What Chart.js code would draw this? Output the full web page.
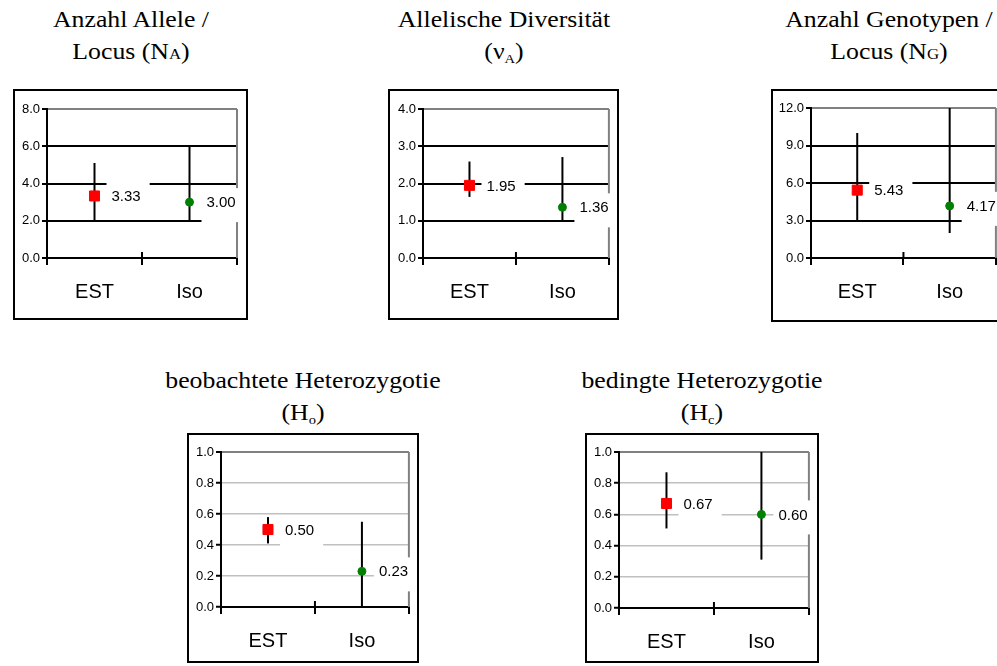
<!DOCTYPE html>
<html>
<head>
<meta charset="utf-8">
<script src="https://cdn.jsdelivr.net/npm/chart.js@4/dist/chart.umd.min.js"></script>
<style>
  html, body { margin: 0; padding: 0; background: #fff; }
  body { width: 997px; height: 666px; overflow: hidden; position: relative; }
  .box { position: absolute; border: 2px solid #000; box-sizing: border-box; background: #fff; }
  .box canvas { position: absolute; left: 0; top: 0; display: block; }
  .title {
    position: absolute; width: 400px; text-align: center; white-space: nowrap;
    font-family: 'Liberation Serif', 'Times New Roman', serif; font-size: 23px;
    line-height: 32px; color: #000; transform: scaleX(1.12); transform-origin: center top;
  }
  .sc { font-size: 15px; }
  .title sub { font-size: 13px; vertical-align: -4px; line-height: 0; }
</style>
</head>
<body>
<script>
// Two groups compared in every panel
const categories = ['EST', 'Iso'];

// Anzahl Allele / Locus (NA): mean with min/max range
const naMean = [3.33, 3.00];
const naLow = [2.0, 2.0];
const naHigh = [5.1, 6.0];
const naTicks = [0, 2, 4, 6, 8];

// Allelische Diversitaet (vA)
const vaMean = [1.95, 1.36];
const vaLow = [1.64, 1.0];
const vaHigh = [2.59, 2.71];
const vaTicks = [0, 1, 2, 3, 4];

// Anzahl Genotypen / Locus (NG)
const ngMean = [5.43, 4.17];
const ngLow = [3.0, 2.0];
const ngHigh = [10.0, 12.0];
const ngTicks = [0, 3, 6, 9, 12];

// beobachtete Heterozygotie (Ho)
const hoMean = [0.50, 0.23];
const hoLow = [0.41, 0.0];
const hoHigh = [0.58, 0.55];
const hoTicks = [0, 0.2, 0.4, 0.6, 0.8, 1.0];

// bedingte Heterozygotie (Hc)
const hcMean = [0.67, 0.60];
const hcLow = [0.51, 0.31];
const hcHigh = [0.87, 1.0];
const hcTicks = [0, 0.2, 0.4, 0.6, 0.8, 1.0];

const markerStyles = ['rect', 'circle'];
const markerRadius = [7.1, 4];
const markerColors = ['#ff0000', '#008000'];

const SANS = "'Liberation Sans', Arial, sans-serif";

// Panel layout: frame box [left, top, width, height] and plot area [left, top, right, bottom] in page pixels
const panels = [
  { mean: naMean, low: naLow, high: naHigh, ticks: naTicks,
    box: [13, 89, 235, 231], plot: [47, 109, 237, 258], grid: '#000', gridWidth: 2,
    title: ['Anzahl Allele /', 'Locus (N<span class="sc">A</span>)'], titleTop: 4 },
  { mean: vaMean, low: vaLow, high: vaHigh, ticks: vaTicks,
    box: [388, 89, 231, 231], plot: [423, 109, 612, 258], grid: '#000', gridWidth: 2,
    title: ['Allelische Diversität', '(ν<sub>A</sub>)'], titleTop: 4 },
  { mean: ngMean, low: ngLow, high: ngHigh, ticks: ngTicks,
    box: [771, 89, 235, 233], plot: [811, 108, 996, 258], grid: '#000', gridWidth: 2,
    title: ['Anzahl Genotypen /', 'Locus (N<span class="sc">G</span>)'], titleTop: 4 },
  { mean: hoMean, low: hoLow, high: hoHigh, ticks: hoTicks,
    box: [187, 433, 232, 230], plot: [221, 452, 412, 607], grid: '#c0c0c0', gridWidth: 1.5,
    title: ['beobachtete Heterozygotie', '(H<sub>o</sub>)'], titleTop: 365 },
  { mean: hcMean, low: hcLow, high: hcHigh, ticks: hcTicks,
    box: [585, 433, 234, 230], plot: [619, 452, 812, 608], grid: '#c0c0c0', gridWidth: 1.5,
    title: ['bedingte Heterozygotie', '(H<sub>c</sub>)'], titleTop: 365 }
];

// Draws the grey plot frame, white-backed value labels, range bars and the middle axis tick
const rangeAndLabels = {
  id: 'rangeAndLabels',
  beforeDatasetsDraw(chart) {
    const o = chart.options.plugins.rangeAndLabels;
    const { ctx, chartArea: a, scales: { x, y } } = chart;
    ctx.save();
    ctx.strokeStyle = '#808080';
    ctx.lineWidth = 2;
    ctx.beginPath();
    ctx.moveTo(a.right, a.top);
    ctx.lineTo(a.right, a.bottom);
    ctx.stroke();

    ctx.strokeStyle = '#000';
    const mid = (x.getPixelForValue(0) + x.getPixelForValue(1)) / 2;
    ctx.beginPath();
    ctx.moveTo(mid, a.bottom);
    ctx.lineTo(mid, a.bottom - 6);
    ctx.stroke();

    ctx.font = '15px ' + SANS;
    ctx.textBaseline = 'middle';
    ctx.textAlign = 'left';
    o.mean.forEach((v, i) => {
      const px = x.getPixelForValue(i);
      const py = y.getPixelForValue(v);
      const txt = v.toFixed(2);
      const w = ctx.measureText(txt).width;
      ctx.fillStyle = '#fff';
      ctx.fillRect(px + 12, py - 14, w + 14, 34);
      ctx.fillStyle = '#000';
      ctx.fillText(txt, px + 17, py + 1);
    });

    ctx.strokeStyle = '#000';
    ctx.lineWidth = 2;
    o.low.forEach((lo, i) => {
      const px = x.getPixelForValue(i);
      ctx.beginPath();
      ctx.moveTo(px, y.getPixelForValue(lo));
      ctx.lineTo(px, y.getPixelForValue(o.high[i]));
      ctx.stroke();
    });
    ctx.restore();
  }
};

panels.forEach(p => {
  const [bl, bt, bw, bh] = p.box;
  const [pl, pt, pr, pb] = p.plot;
  const cw = bw - 4, ch = bh - 4;
  const ox = bl + 2, oy = bt + 2;

  const title = document.createElement('div');
  title.className = 'title';
  title.style.left = (bl + bw / 2 - 200) + 'px';
  title.style.top = p.titleTop + 'px';
  title.innerHTML = p.title.join('<br>');
  document.body.appendChild(title);

  const box = document.createElement('div');
  box.className = 'box';
  box.style.left = bl + 'px';
  box.style.top = bt + 'px';
  box.style.width = bw + 'px';
  box.style.height = bh + 'px';
  const canvas = document.createElement('canvas');
  canvas.width = cw;
  canvas.height = ch;
  box.appendChild(canvas);
  document.body.appendChild(box);

  const yMin = p.ticks[0];
  const yMax = p.ticks[p.ticks.length - 1];
  const yWidth = pl - ox;
  const xHeight = ch - (pb - oy);

  new Chart(canvas, {
    type: 'line',
    data: {
      labels: categories,
      datasets: [{
        data: p.mean,
        showLine: false,
        pointStyle: markerStyles,
        pointRadius: markerRadius,
        pointBackgroundColor: markerColors,
        pointBorderColor: markerColors,
        pointBorderWidth: 1,
        clip: false
      }]
    },
    options: {
      responsive: false,
      animation: false,
      devicePixelRatio: 1,
      layout: { padding: { top: pt - oy, right: cw - (pr - ox), left: 0, bottom: 0 } },
      plugins: {
        legend: { display: false },
        tooltip: { enabled: false },
        rangeAndLabels: { mean: p.mean, low: p.low, high: p.high }
      },
      scales: {
        x: {
          type: 'category',
          offset: true,
          grid: { offset: true, drawOnChartArea: false, drawTicks: true, tickLength: 7,
                  tickWidth: 2, tickColor: '#000', lineWidth: 2, color: '#000' },
          border: { color: '#000', width: 2 },
          ticks: { font: { family: SANS, size: 20 }, color: '#000', padding: 15, maxRotation: 0 },
          afterFit(s) { s.height = xHeight; }
        },
        y: {
          min: yMin,
          max: yMax,
          afterBuildTicks(s) { s.ticks = p.ticks.map(v => ({ value: v })); },
          ticks: { font: { family: SANS, size: 13 }, color: '#000', padding: 2,
                   callback: v => Number(v).toFixed(1) },
          grid: {
            color: c => (c.tick && c.tick.value === yMax) ? '#808080' : p.grid,
            lineWidth: c => (c.tick && c.tick.value === yMax) ? 2 : p.gridWidth,
            tickColor: '#000', tickLength: 5, tickWidth: 2
          },
          border: { color: '#000', width: 2 },
          afterFit(s) { s.width = yWidth; }
        }
      }
    },
    plugins: [rangeAndLabels]
  });
});
</script>
</body>
</html>
